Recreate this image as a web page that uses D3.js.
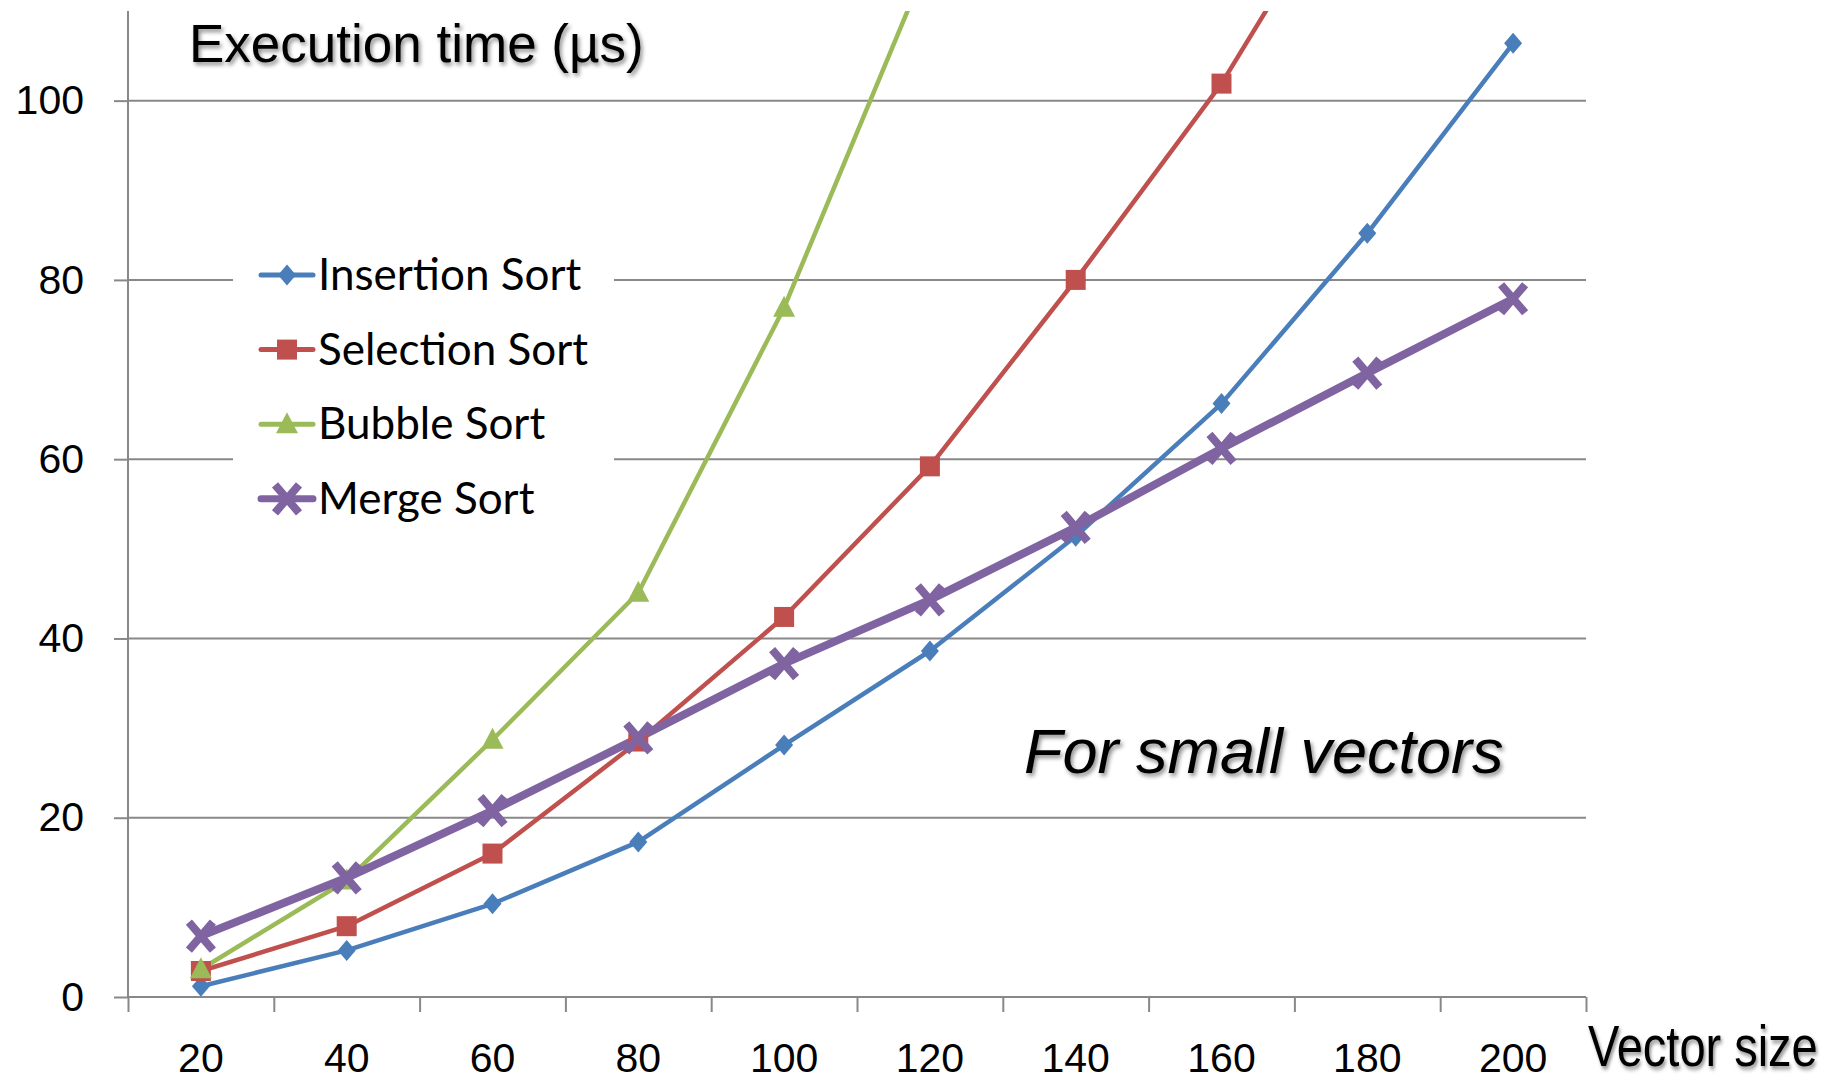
<!DOCTYPE html>
<html>
<head>
<meta charset="utf-8">
<script src="https://cdn.jsdelivr.net/npm/d3@7"></script>
<style>
  body { margin: 0; background: #fff; }
  svg { display: block; }
</style>
</head>
<body>
<div id="chart"></div>
<script>
// data
var sizes = ["20", "40", "60", "80", "100", "120", "140", "160", "180", "200"];
var insertion = [1.2, 5.2, 10.4, 17.3, 28.1, 38.6, 51.4, 66.2, 85.2, 106.4];
var selection = [2.9, 7.9, 16.0, 28.5, 42.4, 59.2, 80.0, 101.9, 128.5, null];
var bubble    = [3.1, 13.0, 28.7, 45.1, 76.9, 116.0, null, null, null, null];
var merge     = [6.8, 13.3, 20.8, 28.9, 37.2, 44.3, 52.4, 61.2, 69.6, 77.9];
var yTicks = [0, 20, 40, 60, 80, 100];

var seriesNames = ["Insertion Sort", "Selection Sort", "Bubble Sort", "Merge Sort"];
var seriesColors = ["#4A7EBB", "#C0504D", "#9BBB59", "#8064A2"];
var seriesShapes = ["diamond", "square", "triangle", "cross"];

var width = 1828, height = 1081;
var plotLeft = 128, plotRight = 1586, plotTop = 11, plotBottom = 997;

var svg = d3.select("#chart").append("svg")
  .attr("width", width)
  .attr("height", height);

// shadow for the big labels
var defs = svg.append("defs");
var f = defs.append("filter").attr("id", "shadow")
  .attr("x", "-10%").attr("y", "-20%").attr("width", "120%").attr("height", "150%");
f.append("feDropShadow").attr("dx", 2).attr("dy", 3).attr("stdDeviation", 2)
  .attr("flood-color", "#000").attr("flood-opacity", 0.45);
defs.append("clipPath").attr("id", "plotclip").append("rect")
  .attr("x", plotLeft).attr("y", plotTop)
  .attr("width", plotRight - plotLeft).attr("height", plotBottom - plotTop);

var x = d3.scaleBand().domain(sizes).range([plotLeft, plotRight]);
var xEdge = d3.scaleLinear().domain([0, sizes.length]).range([plotLeft, plotRight]);
var y = d3.scaleLinear().domain([0, 110]).range([plotBottom, plotTop]);

// gridlines
svg.append("g").selectAll("line")
  .data(yTicks.slice(1))
  .enter().append("line")
  .attr("x1", plotLeft).attr("x2", plotRight)
  .attr("y1", function(d) { return y(d); })
  .attr("y2", function(d) { return y(d); })
  .attr("stroke", "#888").attr("stroke-width", 2);

// y axis
var yAxis = svg.append("g")
  .attr("transform", "translate(" + plotLeft + ",0)")
  .call(d3.axisLeft(y).tickValues(yTicks).tickSize(14).tickPadding(30));
yAxis.select(".domain").attr("stroke", "#888").attr("stroke-width", 2)
  .attr("d", "M0," + plotTop + "V" + plotBottom);
yAxis.selectAll(".tick line").attr("stroke", "#888").attr("stroke-width", 2);
yAxis.selectAll("text")
  .attr("font-family", "'Liberation Sans', Arial, sans-serif")
  .attr("font-size", 41).attr("fill", "#000");

// x axis: tick marks between categories
var xTickAxis = svg.append("g")
  .attr("transform", "translate(0," + plotBottom + ")")
  .call(d3.axisBottom(xEdge).ticks(sizes.length).tickSize(15).tickFormat(""));
xTickAxis.select(".domain").attr("stroke", "#888").attr("stroke-width", 2)
  .attr("d", "M" + plotLeft + ",0H" + plotRight);
xTickAxis.selectAll(".tick line").attr("stroke", "#888").attr("stroke-width", 2);

var xAxis = svg.append("g")
  .attr("transform", "translate(0," + plotBottom + ")")
  .call(d3.axisBottom(x).tickSize(0).tickPadding(46));
xAxis.select(".domain").remove();
xAxis.selectAll("text")
  .attr("font-family", "'Liberation Sans', Arial, sans-serif")
  .attr("font-size", 41).attr("fill", "#000");

// marker drawing
function drawMarker(g, shape, color) {
  if (shape == "diamond") {
    g.append("path").attr("d", "M0,-10.5L9,0L0,10.5L-9,0Z")
      .attr("fill", color);
  }
  if (shape == "square") {
    g.append("rect").attr("x", -10).attr("y", -10).attr("width", 20).attr("height", 20)
      .attr("fill", color);
  }
  if (shape == "triangle") {
    g.append("path").attr("d", "M0,-12L11,9H-11Z").attr("fill", color);
  }
  if (shape == "cross") {
    g.append("path").attr("d", "M-12,-14L12,14M-12,14L12,-14")
      .attr("stroke", color).attr("stroke-width", 8).attr("fill", "none");
  }
}

var allSeries = [insertion, selection, bubble, merge];
var line = d3.line()
  .defined(function(d) { return d != null; })
  .x(function(d, i) { return x(sizes[i]) + x.bandwidth() / 2; })
  .y(function(d) { return y(d); });

var plot = svg.append("g").attr("clip-path", "url(#plotclip)");
allSeries.forEach(function(vals, k) {
  plot.append("path")
    .attr("d", line(vals))
    .attr("fill", "none")
    .attr("stroke", seriesColors[k])
    .attr("stroke-width", k == 3 ? 8 : 4.5)
    .attr("stroke-linejoin", "round");
});
allSeries.forEach(function(vals, k) {
  vals.forEach(function(v, i) {
    if (v == null || v > 110) return;
    var g = plot.append("g")
      .attr("transform", "translate(" + (x(sizes[i]) + x.bandwidth() / 2) + "," + y(v) + ")");
    drawMarker(g, seriesShapes[k], seriesColors[k]);
  });
});

// legend
var legend = svg.append("g");
legend.append("rect")
  .attr("x", 233).attr("y", 232).attr("width", 381).attr("height", 310)
  .attr("fill", "#fff");
seriesNames.forEach(function(name, k) {
  var cy = 275 + k * 74.6;
  legend.append("line")
    .attr("x1", 261).attr("x2", 313).attr("y1", cy).attr("y2", cy)
    .attr("stroke", seriesColors[k]).attr("stroke-width", k == 3 ? 7 : 5)
    .attr("stroke-linecap", "round");
  var g = legend.append("g").attr("transform", "translate(287," + cy + ")");
  drawMarker(g, seriesShapes[k], seriesColors[k]);
  legend.append("text")
    .attr("x", 318).attr("y", cy + 15)
    .attr("font-family", "Lato, 'Open Sans', sans-serif")
    .attr("font-size", 44)
    .attr("fill", "#000")
    .text(name);
});

// titles
svg.append("text")
  .attr("x", 189).attr("y", 62)
  .attr("font-family", "'Liberation Sans', Arial, sans-serif")
  .attr("font-size", 53)
  .attr("filter", "url(#shadow)")
  .text("Execution time (µs)");

svg.append("text")
  .attr("transform", "translate(1588,1066) scale(0.81,1)")
  .attr("font-family", "'Liberation Sans', Arial, sans-serif")
  .attr("font-size", 58)
  .attr("filter", "url(#shadow)")
  .text("Vector size");

svg.append("text")
  .attr("x", 1024).attr("y", 773)
  .attr("font-family", "'Liberation Sans', Arial, sans-serif")
  .attr("font-style", "italic")
  .attr("font-size", 63)
  .attr("filter", "url(#shadow)")
  .text("For small vectors");
</script>
</body>
</html>
